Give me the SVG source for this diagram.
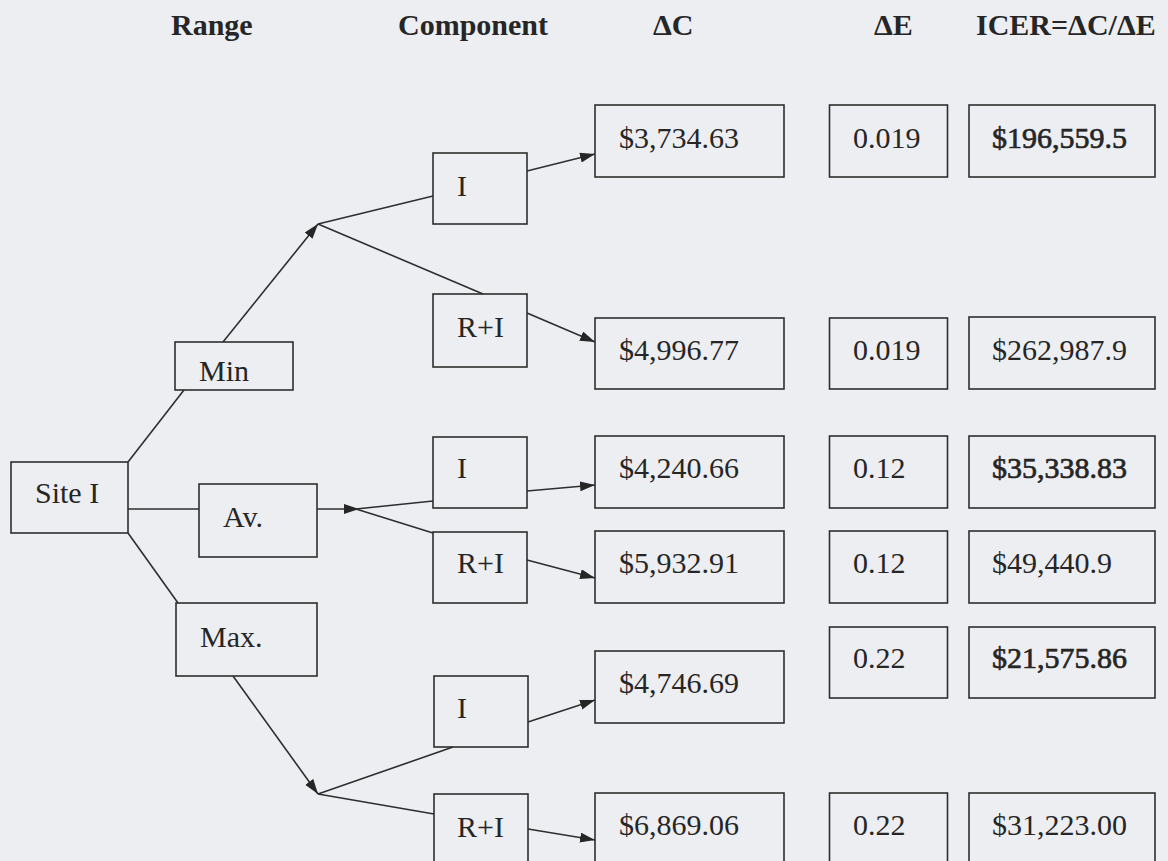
<svg xmlns="http://www.w3.org/2000/svg" width="1168" height="861" viewBox="0 0 1168 861">
<style>
.bx{fill:none;stroke:#2e2e2e;stroke-width:1.6}
.t{font-family:"Liberation Serif","Times New Roman",serif;font-size:30px;fill:#262626}
.h{font-family:"Liberation Serif","Times New Roman",serif;font-size:30px;font-weight:bold;fill:#262626}
.b{stroke:#262626;stroke-width:0.7}
.ln{fill:none;stroke:#2e2e2e;stroke-width:1.6}
</style>
<defs>
<marker id="ah" markerUnits="userSpaceOnUse" markerWidth="16" markerHeight="12" refX="15" refY="5" orient="auto">
<path d="M0,0 L15,5 L0,10 z" fill="#262626"/>
</marker>
</defs>
<rect width="1168" height="861" fill="#edeef1"/>
<g id="headers">
<text class="h" x="171" y="35">Range</text>
<text class="h" x="398" y="35">Component</text>
<text class="h" x="653" y="35">ΔC</text>
<text class="h" x="874" y="35">ΔE</text>
<text class="h" x="976" y="35">ICER=ΔC/ΔE</text>
</g>
<g id="connectors">
<line class="ln" x1="128" y1="462" x2="184" y2="390"/>
<line class="ln" x1="128" y1="509" x2="199" y2="509"/>
<line class="ln" x1="128" y1="533" x2="178" y2="603"/>
<line class="ln" x1="223" y1="342" x2="318" y2="224" marker-end="url(#ah)"/>
<line class="ln" x1="318" y1="224" x2="433" y2="196"/>
<line class="ln" x1="318" y1="224" x2="483" y2="294"/>
<line class="ln" x1="317" y1="509" x2="359" y2="509" marker-end="url(#ah)"/>
<line class="ln" x1="356" y1="509" x2="433" y2="501"/>
<line class="ln" x1="356" y1="509" x2="433" y2="533"/>
<line class="ln" x1="233" y1="676" x2="318" y2="794" marker-end="url(#ah)"/>
<line class="ln" x1="318" y1="794" x2="453" y2="747"/>
<line class="ln" x1="318" y1="794" x2="434" y2="814"/>
<line class="ln" x1="527" y1="171" x2="595" y2="154" marker-end="url(#ah)"/>
<line class="ln" x1="527" y1="313" x2="595" y2="342" marker-end="url(#ah)"/>
<line class="ln" x1="527" y1="491" x2="595" y2="485" marker-end="url(#ah)"/>
<line class="ln" x1="527" y1="560" x2="595" y2="578" marker-end="url(#ah)"/>
<line class="ln" x1="528" y1="722" x2="595" y2="700" marker-end="url(#ah)"/>
<line class="ln" x1="528" y1="829" x2="595" y2="840" marker-end="url(#ah)"/>
</g>
<g id="site"><rect class="bx" x="11" y="462" width="117" height="71"/><text class="t" x="35" y="503">Site I</text></g>
<g id="min"><rect class="bx" x="175" y="342" width="118" height="48"/><text class="t" x="199" y="381">Min</text></g>
<g id="av"><rect class="bx" x="199" y="484" width="118" height="73"/><text class="t" x="223" y="527">Av.</text></g>
<g id="max"><rect class="bx" x="176" y="603" width="141" height="73"/><text class="t" x="200" y="647">Max.</text></g>
<g id="c1"><rect class="bx" x="433" y="153" width="94" height="71"/><text class="t" x="457" y="196">I</text></g>
<g id="c2"><rect class="bx" x="433" y="294" width="94" height="73"/><text class="t" x="457" y="337">R+I</text></g>
<g id="c3"><rect class="bx" x="433" y="437" width="94" height="71"/><text class="t" x="457" y="478">I</text></g>
<g id="c4"><rect class="bx" x="433" y="532" width="94" height="71"/><text class="t" x="457" y="573">R+I</text></g>
<g id="c5"><rect class="bx" x="434" y="676" width="94" height="71"/><text class="t" x="457" y="718">I</text></g>
<g id="c6"><rect class="bx" x="434" y="794" width="94" height="72"/><text class="t" x="457" y="837">R+I</text></g>
<g id="dc1"><rect class="bx" x="595" y="105" width="189" height="72"/><text class="t" x="619" y="148">$3,734.63</text></g>
<g id="dc2"><rect class="bx" x="595" y="318" width="189" height="71"/><text class="t" x="619" y="360">$4,996.77</text></g>
<g id="dc3"><rect class="bx" x="595" y="436" width="189" height="72"/><text class="t" x="619" y="478">$4,240.66</text></g>
<g id="dc4"><rect class="bx" x="595" y="531" width="189" height="72"/><text class="t" x="619" y="573">$5,932.91</text></g>
<g id="dc5"><rect class="bx" x="595" y="651" width="189" height="72"/><text class="t" x="619" y="693">$4,746.69</text></g>
<g id="dc6"><rect class="bx" x="595" y="793" width="189" height="72"/><text class="t" x="619" y="835">$6,869.06</text></g>
<g id="de1"><rect class="bx" x="829.5" y="105" width="118" height="72"/><text class="t" x="853" y="148">0.019</text></g>
<g id="de2"><rect class="bx" x="829.5" y="318" width="118" height="71"/><text class="t" x="853" y="360">0.019</text></g>
<g id="de3"><rect class="bx" x="829.5" y="436" width="118" height="72"/><text class="t" x="853" y="478">0.12</text></g>
<g id="de4"><rect class="bx" x="829.5" y="531" width="118" height="72"/><text class="t" x="853" y="573">0.12</text></g>
<g id="de5"><rect class="bx" x="829.5" y="627" width="118" height="71"/><text class="t" x="853" y="668">0.22</text></g>
<g id="de6"><rect class="bx" x="829.5" y="793" width="118" height="72"/><text class="t" x="853" y="835">0.22</text></g>
<g id="ic1"><rect class="bx" x="969" y="105" width="186" height="72"/><text class="t b" x="992" y="148">$196,559.5</text></g>
<g id="ic2"><rect class="bx" x="969" y="317" width="186" height="72"/><text class="t" x="992" y="360">$262,987.9</text></g>
<g id="ic3"><rect class="bx" x="969" y="436" width="186" height="72"/><text class="t b" x="992" y="478">$35,338.83</text></g>
<g id="ic4"><rect class="bx" x="969" y="531" width="186" height="72"/><text class="t" x="992" y="573">$49,440.9</text></g>
<g id="ic5"><rect class="bx" x="969" y="627" width="186" height="71"/><text class="t b" x="992" y="668">$21,575.86</text></g>
<g id="ic6"><rect class="bx" x="969" y="793" width="186" height="72"/><text class="t" x="992" y="835">$31,223.00</text></g>
</svg>
